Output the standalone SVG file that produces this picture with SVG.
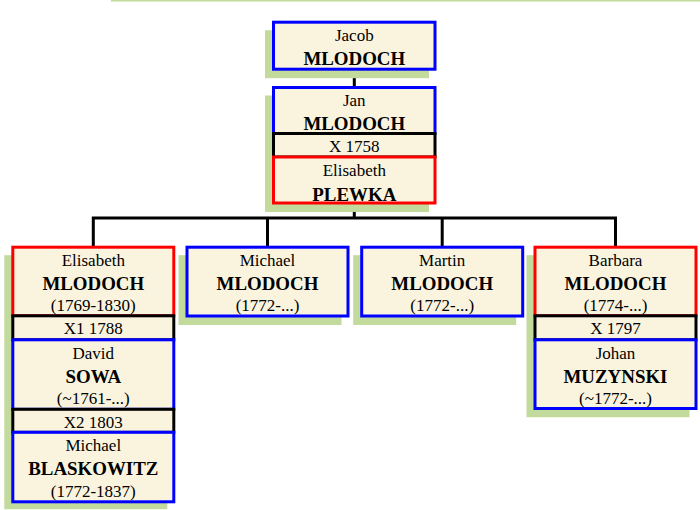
<svg xmlns="http://www.w3.org/2000/svg" width="700" height="510" viewBox="0 0 700 510">
<style>
.sh{fill:#c2da9c}
.b{fill:#faf4df;stroke-width:3}
.m{stroke:#0000ff}
.f{stroke:#ff0000}
.x{stroke:#000000}
text{font-family:"Liberation Serif","Times New Roman",serif;text-anchor:middle;fill:#000}
.n{font-size:17px}
.s{font-size:18.9px;font-weight:bold}
.c{fill:none;stroke:#000;stroke-width:3}
</style>
<rect x="111" y="0" width="589" height="1.5" fill="#c0dc98"/>
<g id="connectors">
<path class="c" d="M354.3,69 V87.5"/>
<path class="c" d="M354.3,203 V218"/>
<path class="c" d="M93.3,247.2 V218 H615.5 V247.2"/>
<path class="c" d="M267.5,218 V247.2"/>
<path class="c" d="M442.2,218 V247.2"/>
</g>
<g id="jacob">
<rect class="sh" x="265" y="30.2" width="164" height="48"/>
<rect class="b m" x="273.5" y="22.2" width="161.5" height="47"/>
<text class="n" x="354.3" y="40.9">Jacob</text>
<text class="s" x="354.3" y="65">MLODOCH</text>
</g>
<g id="jan-elisabeth">
<rect class="sh" x="265" y="95.5" width="164" height="116.5"/>
<g id="jan">
<rect class="b m" x="273.5" y="87.5" width="161.5" height="46"/>
<text class="n" x="354.3" y="106">Jan</text>
<text class="s" x="354.3" y="130">MLODOCH</text>
</g>
<g id="m1758">
<rect class="b x" x="273.5" y="133.5" width="161.5" height="23.5"/>
<text class="n" x="354.3" y="152.3">X 1758</text>
</g>
<g id="elisabeth-plewka">
<rect class="b f" x="273.5" y="157" width="161.5" height="46"/>
<text class="n" x="354.3" y="176.3">Elisabeth</text>
<text class="s" x="354.3" y="200.5">PLEWKA</text>
</g>
</g>
<g id="elisabeth-mlodoch-family">
<rect class="sh" x="4.3" y="255.2" width="163" height="254"/>
<g id="elisabeth-mlodoch">
<rect class="b f" x="12.8" y="247.2" width="161" height="68.6"/>
<text class="n" x="93.3" y="265.9">Elisabeth</text>
<text class="s" x="93.3" y="290">MLODOCH</text>
<text class="n" x="93.3" y="311.2">(1769-1830)</text>
</g>
<g id="m1788">
<rect class="b x" x="12.8" y="315.8" width="161" height="24"/>
<text class="n" x="93.3" y="334.3">X1 1788</text>
</g>
<g id="david-sowa">
<rect class="b m" x="12.8" y="339.8" width="161" height="69.5"/>
<text class="n" x="93.3" y="358.5">David</text>
<text class="s" x="93.3" y="382.6">SOWA</text>
<text class="n" x="93.3" y="403.8">(~1761-...)</text>
</g>
<g id="m1803">
<rect class="b x" x="12.8" y="409.3" width="161" height="23"/>
<text class="n" x="93.3" y="427.6">X2 1803</text>
</g>
<g id="michael-blaskowitz">
<rect class="b m" x="12.8" y="432.3" width="161" height="69.5"/>
<text class="n" x="93.3" y="451.2">Michael</text>
<text class="s" x="93.3" y="475.3">BLASKOWITZ</text>
<text class="n" x="93.3" y="496.5">(1772-1837)</text>
</g>
</g>
<g id="michael-mlodoch">
<rect class="sh" x="178.5" y="255.2" width="163" height="69.8"/>
<rect class="b m" x="187" y="247.2" width="161" height="68.8"/>
<text class="n" x="267.5" y="265.9">Michael</text>
<text class="s" x="267.5" y="290">MLODOCH</text>
<text class="n" x="267.5" y="311.2">(1772-...)</text>
</g>
<g id="martin-mlodoch">
<rect class="sh" x="353.2" y="255.2" width="163" height="69.8"/>
<rect class="b m" x="361.7" y="247.2" width="161" height="68.8"/>
<text class="n" x="442.2" y="265.9">Martin</text>
<text class="s" x="442.2" y="290">MLODOCH</text>
<text class="n" x="442.2" y="311.2">(1772-...)</text>
</g>
<g id="barbara-family">
<rect class="sh" x="526.5" y="255.2" width="163" height="162"/>
<g id="barbara-mlodoch">
<rect class="b f" x="535" y="247.2" width="161" height="68.6"/>
<text class="n" x="615.5" y="265.9">Barbara</text>
<text class="s" x="615.5" y="290">MLODOCH</text>
<text class="n" x="615.5" y="311.2">(1774-...)</text>
</g>
<g id="m1797">
<rect class="b x" x="535" y="315.8" width="161" height="24"/>
<text class="n" x="615.5" y="334.3">X 1797</text>
</g>
<g id="johan-muzynski">
<rect class="b m" x="535" y="339.8" width="161" height="68.7"/>
<text class="n" x="615.5" y="358.5">Johan</text>
<text class="s" x="615.5" y="382.6">MUZYNSKI</text>
<text class="n" x="615.5" y="403.8">(~1772-...)</text>
</g>
</g>
</svg>
